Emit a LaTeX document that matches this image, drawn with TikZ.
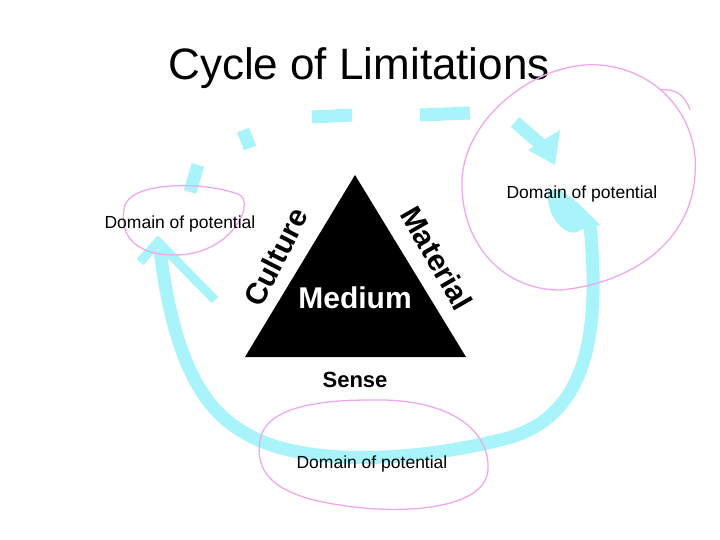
\documentclass[tikz,border=0pt]{standalone}
\usepackage{fontspec}
\setmainfont{Liberation Sans}
\usetikzlibrary{arrows.meta}
\definecolor{cy}{HTML}{A8F4FA}
\definecolor{pk}{HTML}{F0A8EC}
\begin{document}
\begin{tikzpicture}[x=1pt,y=-1pt,
  dom/.style={font=\fontsize{17.5}{20}\selectfont},
  lbl/.style={font=\fontsize{30}{33}\selectfont\bfseries},
  cyl/.style={cy,line width=13pt},
  pkl/.style={pk,line width=1.3pt}]
\useasboundingbox[fill=white] (0,0) rectangle (720,540);
\node (title) at (359,68) {\fontsize{44}{50}\selectfont Cycle of Limitations};
% cyan cycle
\draw[cyl] (590,225) .. controls (600,330) and (590,420) .. (500,440)
  .. controls (420,460) and (300,470) .. (240,430)
  .. controls (190,400) and (170,330) .. (160,250);
\draw[cyl, line width=9pt] (140,262) -- (158,242) -- (215,300);
\draw[cyl] (198,165) -- (190,192);
\draw[cyl] (243,130) -- (250,148);
\draw[cyl] (312,117) -- (352,115);
\draw[cyl] (420,115) -- (470,113);
\draw[cyl] (515,122) -- (545,148);
\fill[cy] (528,150) -- (560,130) -- (555,165) -- cycle;
\fill[cy] (548,190) .. controls (545,220) and (570,240) .. (580,230) -- (600,225) -- (590,215) .. controls (575,200) .. (560,190) -- cycle;
% pink ellipses
\draw[pkl] (175,255) .. controls (130,255) and (118,230) .. (125,205) .. controls (135,180) and (210,182) .. (240,195) .. controls (255,205) and (230,255) .. (175,255);
\draw[pkl] (600,65) .. controls (660,70) and (700,120) .. (695,175) .. controls (690,250) and (620,285) .. (560,290) .. controls (500,290) and (460,240) .. (462,180) .. controls (465,115) and (540,60) .. (600,65);
\draw[pkl] (660,90) .. controls (675,88) and (685,95) .. (690,110);
\draw[pkl] (370,400) .. controls (450,398) and (490,430) .. (488,470) .. controls (485,510) and (400,515) .. (340,505) .. controls (270,495) and (255,470) .. (260,440) .. controls (265,410) and (310,400) .. (370,400);
% triangle
\fill[black] (355,175) -- (466,357) -- (245,357) -- cycle;
\node[lbl,white] (medium) at (355,298) {Medium};
\node[lbl,rotate=63] (culture) at (276,257) {Culture};
\node[lbl,rotate=-60] (material) at (437,258) {Material};
\node[lbl,font=\fontsize{22}{24}\selectfont\bfseries] (sense) at (355,380) {Sense};
\node[dom] (d1) at (180,224) {Domain of potential};
\node[dom] (d2) at (582,194) {Domain of potential};
\node[dom] (d3) at (372,464) {Domain of potential};
\end{tikzpicture}
\end{document}
